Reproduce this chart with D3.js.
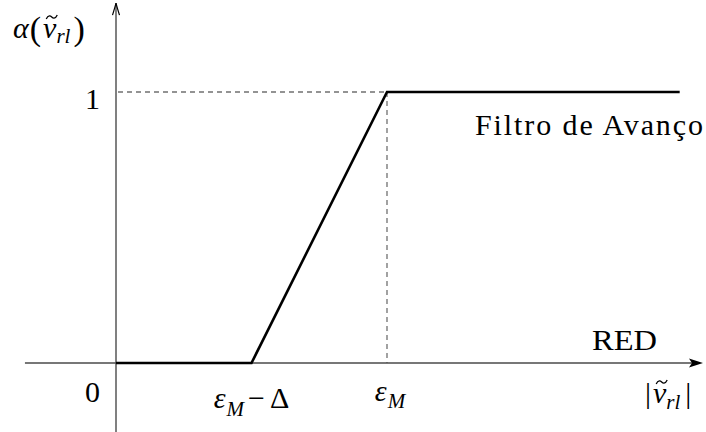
<!DOCTYPE html>
<html>
<head>
<meta charset="utf-8">
<script src="https://cdn.jsdelivr.net/npm/d3@7"></script>
<style>
  html, body { margin: 0; padding: 0; background: #fff; }
  svg { display: block; }
</style>
</head>
<body>
<svg id="chart" width="706" height="432"></svg>
<script>
// Activation curve of the lead filter: alpha as a function of |nu_rl|,
// abscissa in units of eps_M (eps_M - Delta sits at 0.5).
const breakX = [0, 0.5, 1, 2.08];
const alphaY = [0, 0, 1, 1];
const yTickValues = [0, 1];
const yTickLabels = ["0", "1"];
const curveName = "Filtro de Avanço";
const xAxisName = "RED";

// Axis extents (same units as the data)
const xExtent = [-0.336, 2.166];
const yExtent = [-0.255, 1.328];

const SERIF = "'Liberation Serif', 'Times New Roman', 'DejaVu Serif', serif";

const svg = d3.select("#chart");
const x = d3.scaleLinear().domain([0, 1]).range([116, 387]);
const y = d3.scaleLinear().domain([0, 1]).range([363, 92]);

const FS = 30;      // main math size
const SUB = 21;     // subscript size

// --- guide lines to the saturation point ---
svg.append("line")
  .attr("x1", x(0) + 2).attr("x2", x(breakX[2]))
  .attr("y1", y(1)).attr("y2", y(1))
  .attr("stroke", "#707070").attr("stroke-width", 1.3)
  .attr("stroke-dasharray", "5,4");
svg.append("line")
  .attr("x1", x(breakX[2])).attr("x2", x(breakX[2]))
  .attr("y1", y(1)).attr("y2", y(0))
  .attr("stroke", "#707070").attr("stroke-width", 1.3)
  .attr("stroke-dasharray", "5,4");

// --- axes ---
const axisColor = "#4a4a4a";
svg.append("line")
  .attr("x1", x(xExtent[0])).attr("x2", x(xExtent[1]) - 10)
  .attr("y1", y(0)).attr("y2", y(0))
  .attr("stroke", axisColor).attr("stroke-width", 1.4);
// filled arrow head on the abscissa
const ax = x(xExtent[1]), ay = y(0);
svg.append("path")
  .attr("d", `M${ax},${ay} L${ax - 14},${ay - 4.5} L${ax - 11},${ay} L${ax - 14},${ay + 4.5} Z`)
  .attr("fill", "#000");

svg.append("line")
  .attr("x1", x(0)).attr("x2", x(0))
  .attr("y1", y(yExtent[0])).attr("y2", y(yExtent[1]))
  .attr("stroke", axisColor).attr("stroke-width", 1.4);
// open arrow head on the ordinate
const ty = y(yExtent[1]), tx = x(0);
svg.append("path")
  .attr("d", `M${tx - 3.5},${ty + 12} Q${tx - 1},${ty + 4} ${tx},${ty} Q${tx + 1},${ty + 4} ${tx + 3.5},${ty + 12}`)
  .attr("fill", "none").attr("stroke", "#000").attr("stroke-width", 1.2);

// --- the curve ---
const pts = breakX.map((v, i) => [v, alphaY[i]]);
svg.append("path")
  .datum(pts)
  .attr("d", d3.line().x(d => x(d[0])).y(d => y(d[1])))
  .attr("fill", "none").attr("stroke", "#000")
  .attr("stroke-width", 2.6).attr("stroke-linejoin", "miter");

// plain serif text
function label(sel, size, italic) {
  return sel
    .attr("font-family", SERIF)
    .attr("font-size", size)
    .attr("font-style", italic ? "italic" : "normal")
    .attr("fill", "#000");
}

// --- math-style text helper: parts laid out one after another ---
function mathText(parts, px, py, anchor) {
  const g = svg.append("g");
  let cx = 0;
  parts.forEach(p => {
    cx += p.pre || 0;
    const t = label(g.append("text"), p.size || FS, p.italic)
      .attr("x", cx).attr("y", p.dy || 0)
      .text(p.t);
    const w = t.node().getComputedTextLength();
    if (p.tilde) {
      // tilde accent drawn as a small wave above the glyph
      const c = cx + w / 2 + 2, h = -21;
      g.append("path")
        .attr("d", `M${c - 5.5},${h + 2} C${c - 3.5},${h - 2.5} ${c - 1},${h - 1} ${c},${h} C${c + 1},${h + 1} ${c + 3.5},${h + 2.5} ${c + 5.5},${h - 2}`)
        .attr("fill", "none").attr("stroke", "#000").attr("stroke-width", 1.3);
    }
    cx += w + (p.post || 0);
  });
  const off = anchor === "middle" ? -cx / 2 : anchor === "end" ? -cx : 0;
  g.attr("transform", `translate(${px + off},${py})`);
  return g;
}

// ordinate name: alpha(nu~_rl)
mathText([
  { t: "α", italic: true },
  { t: "(", size: 34, dy: 2, pre: 1 },
  { t: "ν", italic: true, tilde: true, pre: 2 },
  { t: "rl", italic: true, size: SUB, dy: 5, pre: 0 },
  { t: ")", size: 34, dy: 2, pre: 3 }
], 13, 38, "start");

// abscissa name: |nu~_rl|
mathText([
  { t: "|" },
  { t: "ν", italic: true, tilde: true, pre: 2 },
  { t: "rl", italic: true, size: SUB, dy: 6 },
  { t: "|", pre: 5 }
], 645, 403, "start");

// y tick labels
yTickValues.forEach((v, i) => {
  label(svg.append("text"), FS, false)
    .attr("x", x(0) - 16).attr("y", y(v) + (v === 0 ? 39 : 17))
    .attr("text-anchor", "end")
    .text(yTickLabels[i]);
});

// x tick labels: eps_M - Delta and eps_M
mathText([
  { t: "ε", italic: true },
  { t: "M", italic: true, size: SUB, dy: 8, pre: 1 },
  { t: "−", pre: 4 },
  { t: "Δ", pre: 5 }
], x(breakX[1]), 408, "middle");

mathText([
  { t: "ε", italic: true },
  { t: "M", italic: true, size: SUB, dy: 7, pre: 1 }
], x(breakX[2]) + 3, 401, "middle");

// axis and curve names
label(svg.append("text"), FS, false)
  .attr("x", 592).attr("y", 350)
  .attr("textLength", 65).attr("lengthAdjust", "spacingAndGlyphs")
  .text(xAxisName);

label(svg.append("text"), FS, false)
  .attr("x", 475).attr("y", 135)
  .attr("textLength", 228)
  .text(curveName);
</script>
</body>
</html>
